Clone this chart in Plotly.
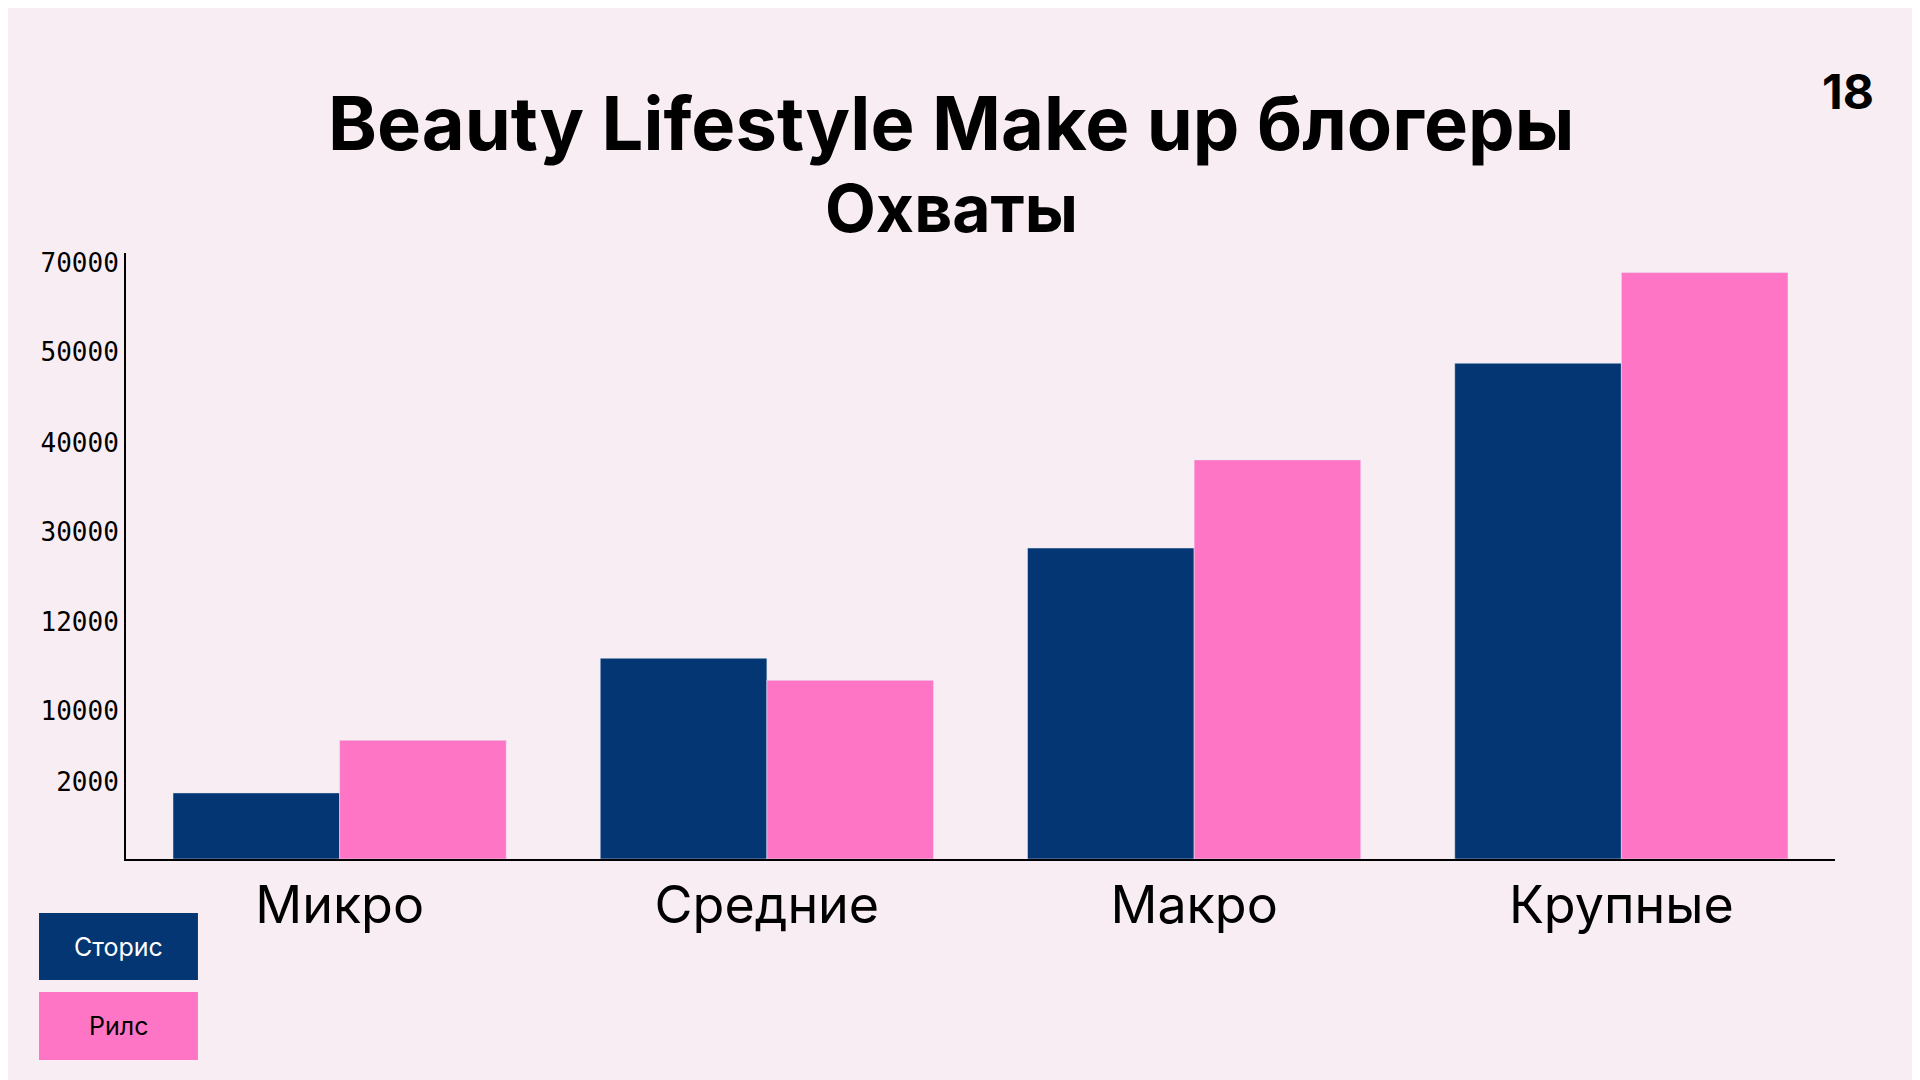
import plotly.graph_objects as go

categories = ["Микро", "Средние", "Макро", "Крупные"]
stories = [7760, 23570, 36510, 58210]
reels = [13940, 20990, 46860, 68850]
tick_vals = [9060, 17390, 27890, 38380, 48870, 59500, 70000]
tick_text = ["2000", "10000", "12000", "30000", "40000", "50000", "70000"]

NAVY = "#043673"
PINK = "#ff75c6"
BG = "#f8edf2"

fig = go.Figure()
fig.add_bar(x=categories, y=stories, name="Сторис", marker_color=NAVY)
fig.add_bar(x=categories, y=reels, name="Рилс", marker_color=PINK)

fig.update_layout(
    width=1920, height=1080,
    paper_bgcolor=BG, plot_bgcolor=BG,
    margin=dict(l=118, r=93, t=245, b=229),
    barmode="group", bargap=0.22, bargroupgap=0,
    showlegend=False,
    font=dict(family="Inter, DejaVu Sans", color="#000"),
    xaxis=dict(showline=True, linecolor="#000", linewidth=2, ticks="",
               tickfont=dict(size=52, family="Inter"), showgrid=False),
    yaxis=dict(range=[0, 71150], tickvals=tick_vals, ticktext=tick_text,
               showline=True, linecolor="#000", linewidth=2, showgrid=False,
               zeroline=False, tickfont=dict(size=26, family="DejaVu Sans Mono")),
)

ann = [
    dict(text="<b>Beauty Lifestyle Make up блогеры</b>", x=0.483, y=1.215, size=74),
    dict(text="<b>Охваты</b>", x=0.483, y=1.075, size=66),
    dict(text="<b>18</b>", x=1.0076, y=1.267, size=48),
]
for a in ann:
    fig.add_annotation(text=a["text"], x=a["x"], y=a["y"], xref="paper", yref="paper",
                       showarrow=False, font=dict(size=a["size"], family="Inter", color="#000"),
                       xanchor="center", yanchor="middle")

for (y0, y1, col, label, tcol) in [(-0.0891, -0.1997, NAVY, "Сторис", "#fff"),
                                    (-0.2195, -0.3317, PINK, "Рилс", "#000")]:
    fig.add_shape(type="rect", xref="paper", yref="paper", x0=-0.0509, x1=0.0421,
                  y0=y0, y1=y1, fillcolor=col, line_width=0)
    fig.add_annotation(text=label, xref="paper", yref="paper", x=-0.0044, y=(y0 + y1) / 2,
                       xanchor="center", yanchor="middle",
                       showarrow=False, font=dict(size=25, family="Inter", color=tcol))

fig.write_html("out.html")
